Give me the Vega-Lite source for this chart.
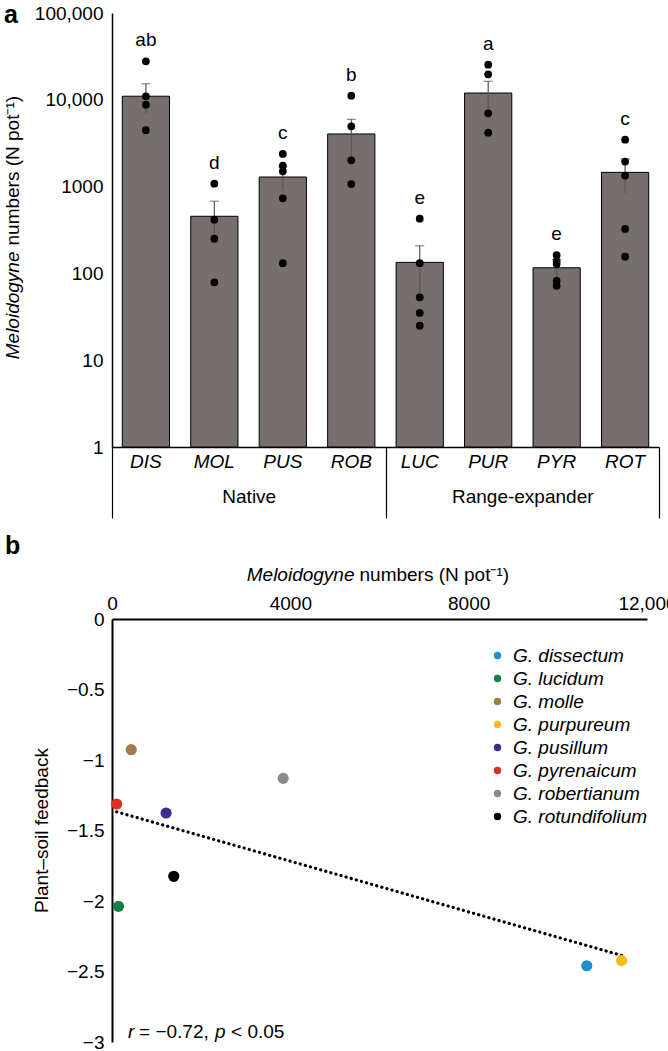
{
  "$schema": "https://vega.github.io/schema/vega-lite/v6.json",
  "background": "white",
  "padding": {"left": 3, "top": 3, "right": 0, "bottom": 0},
  "config": {
    "font": "Liberation Sans",
    "view": {"stroke": null},
    "axis": {"grid": false, "labelColor": "black", "titleColor": "black", "domainColor": "black", "labelFontSize": 19, "titleFontSize": 19, "titleFontWeight": "normal", "labelFont": "Liberation Sans", "titleFont": "Liberation Sans"},
    "legend": {"labelFont": "Liberation Sans"},
    "title": {"fontSize": 25, "fontWeight": "bold", "color": "black", "anchor": "start", "frame": "group", "font": "Liberation Sans"}
  },
  "datasets": {
    "bars": [
      {"sp": "DIS", "group": "Native", "mean": 11000, "lo": 6900, "hi": 15300, "letter": "ab"},
      {"sp": "MOL", "group": "Native", "mean": 455, "lo": 232, "hi": 678, "letter": "d"},
      {"sp": "PUS", "group": "Native", "mean": 1290, "lo": 897, "hi": 1683, "letter": "c"},
      {"sp": "ROB", "group": "Native", "mean": 4040, "lo": 2120, "hi": 5960, "letter": "b"},
      {"sp": "LUC", "group": "Range-expander", "mean": 134, "lo": 60, "hi": 208, "letter": "e"},
      {"sp": "PUR", "group": "Range-expander", "mean": 11970, "lo": 7610, "hi": 16330, "letter": "a"},
      {"sp": "PYR", "group": "Range-expander", "mean": 116, "lo": 87, "hi": 145, "letter": "e"},
      {"sp": "ROT", "group": "Range-expander", "mean": 1460, "lo": 843, "hi": 2077, "letter": "c"}
    ],
    "dots": [
      {"sp": "DIS", "n": 27800}, {"sp": "DIS", "n": 10970}, {"sp": "DIS", "n": 8790}, {"sp": "DIS", "n": 4460},
      {"sp": "MOL", "n": 1080}, {"sp": "MOL", "n": 416}, {"sp": "MOL", "n": 251}, {"sp": "MOL", "n": 79},
      {"sp": "PUS", "n": 2380}, {"sp": "PUS", "n": 1740}, {"sp": "PUS", "n": 1500}, {"sp": "PUS", "n": 733}, {"sp": "PUS", "n": 131},
      {"sp": "ROB", "n": 11140}, {"sp": "ROB", "n": 4950}, {"sp": "ROB", "n": 2010}, {"sp": "ROB", "n": 1070},
      {"sp": "LUC", "n": 427}, {"sp": "LUC", "n": 131}, {"sp": "LUC", "n": 53}, {"sp": "LUC", "n": 35}, {"sp": "LUC", "n": 25},
      {"sp": "PUR", "n": 25350}, {"sp": "PUR", "n": 19660}, {"sp": "PUR", "n": 6980}, {"sp": "PUR", "n": 4180},
      {"sp": "PYR", "n": 162}, {"sp": "PYR", "n": 138}, {"sp": "PYR", "n": 128}, {"sp": "PYR", "n": 82}, {"sp": "PYR", "n": 72},
      {"sp": "ROT", "n": 3470}, {"sp": "ROT", "n": 1940}, {"sp": "ROT", "n": 1340}, {"sp": "ROT", "n": 325}, {"sp": "ROT", "n": 156}
    ],
    "groups": [{"g": "Native"}, {"g": "Range-expander"}],
    "pts": [
      {"sp": "G. dissectum", "n": 10650, "fb": -2.459},
      {"sp": "G. lucidum", "n": 145, "fb": -2.038},
      {"sp": "G. molle", "n": 431, "fb": -0.927},
      {"sp": "G. purpureum", "n": 11430, "fb": -2.423},
      {"sp": "G. pusillum", "n": 1213, "fb": -1.376},
      {"sp": "G. pyrenaicum", "n": 105, "fb": -1.312},
      {"sp": "G. robertianum", "n": 3840, "fb": -1.13},
      {"sp": "G. rotundifolium", "n": 1385, "fb": -1.825}
    ],
    "stat": [{"r": "r", "rv": "= −0.72,", "p": "p", "pv": "< 0.05", "xpos": 360, "ypos": -2.93}]
  },
  "spacing": 15,
  "resolve": {"legend": {"color": "independent"}},
  "vconcat": [
    {
      "title": {"text": "a", "dx": -108, "offset": -24},
      "width": 547,
      "height": 434,
      "layer": [
        {
          "layer": [
            {
              "data": {"name": "bars"},
              "mark": {"type": "bar", "fill": "#776f6d", "stroke": "black", "strokeWidth": 1},
              "encoding": {
                "x": {"field": "sp", "type": "nominal", "sort": null,
                  "scale": {"domain": ["DIS", "MOL", "PUS", "ROB", "LUC", "PUR", "PYR", "ROT"], "paddingInner": 0.31, "paddingOuter": 0.15},
                  "axis": {"title": null, "orient": "bottom", "ticks": false, "labelAngle": 0, "labelFontStyle": "italic", "labelFontSize": 19, "labelPadding": 5, "domainWidth": 1.5}},
                "y": {"field": "mean", "type": "quantitative",
                  "scale": {"type": "log", "domain": [1, 100000]},
                  "axis": {"title": "Meloidogyne", "titleFontStyle": "italic", "titleAngle": 270, "titleAlign": "right", "titleBaseline": "middle", "titleX": -100, "titleY": 238,
                    "values": [1, 10, 100, 1000, 10000, 100000],
                    "labelExpr": "datum.value >= 10000 ? format(datum.value, ',') : format(datum.value, 'd')",
                    "ticks": false, "labelPadding": 9, "domainWidth": 1.5}},
                "y2": {"datum": 1}
              }
            },
            {
              "data": {"name": "bars"},
              "mark": {"type": "rule", "color": "#5a5454", "strokeWidth": 1.2},
              "encoding": {
                "x": {"field": "sp", "type": "nominal", "sort": null},
                "y": {"field": "lo", "type": "quantitative"},
                "y2": {"field": "hi"}
              }
            },
            {
              "data": {"name": "bars"},
              "mark": {"type": "tick", "color": "#5a5454", "thickness": 1.2, "size": 9, "orient": "horizontal"},
              "encoding": {
                "x": {"field": "sp", "type": "nominal", "sort": null},
                "y": {"field": "hi", "type": "quantitative"}
              }
            },
            {
              "data": {"name": "dots"},
              "mark": {"type": "point", "filled": true, "color": "black", "size": 60, "opacity": 1},
              "encoding": {
                "x": {"field": "sp", "type": "nominal", "sort": null},
                "y": {"field": "n", "type": "quantitative"}
              }
            },
            {
              "data": {"name": "dots"},
              "transform": [
                {"aggregate": [{"op": "max", "field": "n", "as": "top"}], "groupby": ["sp"]},
                {"lookup": "sp", "from": {"data": {"name": "bars"}, "key": "sp", "fields": ["letter"]}}
              ],
              "mark": {"type": "text", "dy": -21, "fontSize": 19, "color": "black", "baseline": "middle"},
              "encoding": {
                "x": {"field": "sp", "type": "nominal", "sort": null},
                "y": {"field": "top", "type": "quantitative"},
                "text": {"field": "letter"}
              }
            }
          ]
        },
        {
          "data": {"name": "groups"},
          "mark": {"type": "text", "text": ""},
          "encoding": {
            "x": {"field": "g", "type": "nominal", "sort": null,
              "scale": {"domain": ["Native", "Range-expander"], "paddingInner": 0, "paddingOuter": 0},
              "axis": {"orient": "bottom", "title": null, "domain": false, "ticks": true, "tickSize": 71, "tickWidth": 1.2, "tickColor": "black", "tickBand": "extent", "labelPadding": -31, "labelFontSize": 19, "labelAngle": 0}}
          }
        },
        {
          "data": {"name": "bars"},
          "mark": {"type": "text", "text": ""},
          "encoding": {
            "y": {"field": "mean", "type": "quantitative",
              "scale": {"type": "log", "domain": [1, 100000]},
              "axis": {"orient": "left", "title": "numbers (N pot⁻¹)", "titleAngle": 270, "titleAlign": "left", "titleBaseline": "middle", "titleX": -100, "titleY": 232, "labels": false, "ticks": false, "domain": false}}
          }
        }
      ],
      "resolve": {"scale": {"x": "independent", "y": "independent"}}
    },
    {
      "title": {"text": "b", "dx": -107, "offset": 6},
      "width": 535,
      "height": 423,
      "layer": [
        {
          "layer": [
            {
              "data": {"name": "pts"},
              "transform": [{"regression": "fb", "on": "n"}],
              "mark": {"type": "line", "color": "black", "strokeWidth": 3.2, "strokeDash": [0.1, 5.2], "strokeCap": "round"},
              "encoding": {
                "x": {"field": "n", "type": "quantitative", "scale": {"domain": [0, 12000]},
                  "axis": {"orient": "top", "values": [0, 4000, 8000, 12000],
                    "labelExpr": "datum.value >= 10000 ? format(datum.value, ',') : format(datum.value, 'd')",
                    "ticks": false, "labelPadding": 6, "domainWidth": 2, "labelFlush": false,
                    "title": "Meloidogyne", "titleFontStyle": "italic", "titleAlign": "right", "titleX": 242, "titleY": -39, "titleBaseline": "alphabetic"}},
                "y": {"field": "fb", "type": "quantitative", "scale": {"domain": [-3, 0]},
                  "axis": {"values": [0, -0.5, -1, -1.5, -2, -2.5, -3],
                    "labelExpr": "datum.value == 0 ? '0' : '−' + format(-datum.value, '~g')",
                    "ticks": false, "labelPadding": 8, "domainWidth": 2,
                    "title": "Plant–soil feedback", "titleX": -71, "titleY": 211, "titleAngle": 270, "titleAlign": "center", "titleBaseline": "middle"}}
              }
            },
            {
              "data": {"name": "pts"},
              "mark": {"type": "circle", "size": 125, "opacity": 1},
              "encoding": {
                "x": {"field": "n", "type": "quantitative"},
                "y": {"field": "fb", "type": "quantitative"},
                "color": {"field": "sp", "type": "nominal",
                  "scale": {"domain": ["G. dissectum", "G. lucidum", "G. molle", "G. purpureum", "G. pusillum", "G. pyrenaicum", "G. robertianum", "G. rotundifolium"],
                    "range": ["#1e8fcf", "#13804a", "#a27a4c", "#f6bd17", "#3b2e91", "#dd3022", "#8a8a8a", "#000000"]},
                  "legend": {"title": null, "orient": "none", "legendX": 376, "legendY": 27, "labelFontStyle": "italic", "labelFontSize": 19, "labelColor": "black", "symbolType": "circle", "symbolSize": 55, "symbolStrokeWidth": 0, "rowPadding": 3, "labelOffset": 6, "padding": 0}}
              }
            },
            {
              "data": {"name": "stat"},
              "mark": {"type": "text", "fontStyle": "italic", "fontSize": 19, "align": "left", "baseline": "middle", "dx": 0, "color": "black"},
              "encoding": {"x": {"field": "xpos", "type": "quantitative"}, "y": {"field": "ypos", "type": "quantitative"}, "text": {"field": "r"}}
            },
            {
              "data": {"name": "stat"},
              "mark": {"type": "text", "fontSize": 19, "align": "left", "baseline": "middle", "dx": 11, "color": "black"},
              "encoding": {"x": {"field": "xpos", "type": "quantitative"}, "y": {"field": "ypos", "type": "quantitative"}, "text": {"field": "rv"}}
            },
            {
              "data": {"name": "stat"},
              "mark": {"type": "text", "fontStyle": "italic", "fontSize": 19, "align": "left", "baseline": "middle", "dx": 87, "color": "black"},
              "encoding": {"x": {"field": "xpos", "type": "quantitative"}, "y": {"field": "ypos", "type": "quantitative"}, "text": {"field": "p"}}
            },
            {
              "data": {"name": "stat"},
              "mark": {"type": "text", "fontSize": 19, "align": "left", "baseline": "middle", "dx": 103, "color": "black"},
              "encoding": {"x": {"field": "xpos", "type": "quantitative"}, "y": {"field": "ypos", "type": "quantitative"}, "text": {"field": "pv"}}
            }
          ]
        },
        {
          "data": {"name": "pts"},
          "mark": {"type": "text", "text": ""},
          "encoding": {
            "x": {"field": "n", "type": "quantitative", "scale": {"domain": [0, 12000]},
              "axis": {"orient": "top", "title": "numbers (N pot⁻¹)", "titleAlign": "left", "titleX": 247, "titleY": -39, "titleBaseline": "alphabetic", "labels": false, "ticks": false, "domain": false}}
          }
        }
      ],
      "resolve": {"scale": {"x": "independent"}}
    }
  ]
}
